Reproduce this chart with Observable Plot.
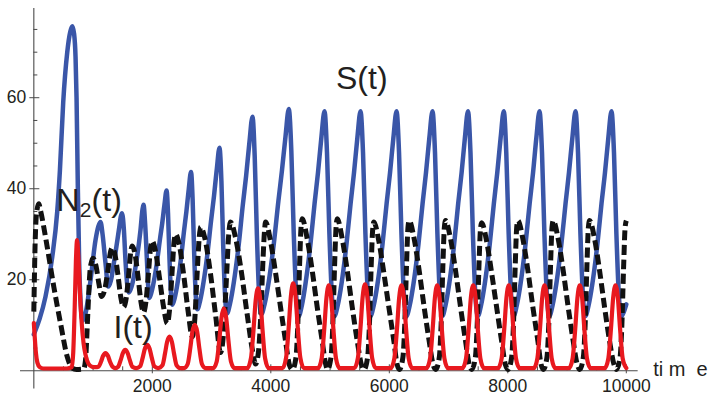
<!DOCTYPE html>
<html><head><meta charset="utf-8">
<script src="https://cdn.jsdelivr.net/npm/d3@7"></script>
<script src="https://cdn.jsdelivr.net/npm/@observablehq/plot@0.6"></script>
<style>html,body{margin:0;padding:0;background:#fff;} #chart svg{display:block;}</style>
</head><body><div id="chart"></div>
<script>
// S(t): susceptible (blue)
const S = [
[0,8],[100,11.5],[197,16.3],[311,25],[395,35],[440,44],[496,59],[564,70],[615,74.5],[650,75.7],[680,74],[704,69],[721,60],[743,40],[765,24],[790,15],[822,11],
[873,12.6],[957,19.9],[1041,28.7],[1090,31.8],[1126,32.7],[1160,30],[1210,23.6],[1255,18.5],
[1300,19.8],[1350,23.6],[1435,30.9],[1470,34],[1489,34.6],[1520,31],[1548,24],[1580,18.5],[1603,17.2],
[1650,18.5],[1716,22.8],[1800,30.9],[1835,35.5],[1851,36.5],[1880,32],[1910,24],[1935,17.5],[1950,16],
[1985,17.2],[2028,19.8],[2083,24.3],[2130,29],[2168,32.5],[2205,36.5],[2240,39.6],[2265,34.6],[2290,24.5],[2315,17],[2340,14.5],
[2378,16],[2425,19.2],[2484,24.7],[2534,30.6],[2575,35],[2615,39.9],[2653,43.7],[2680,37.7],[2707,25.6],[2733,16.5],[2760,13.5],
[2805,15.3],[2861,19.2],[2932,25.9],[2992,33],[3041,38.4],[3089,44.4],[3134,49],[3166,41.7],[3197,27.2],[3229,16.2],[3260,12.6],
[3312,14.8],[3376,19.5],[3458,27.7],[3527,36.4],[3583,42.8],[3639,50.2],[3691,55.8],[3728,47.1],[3765,29.8],[3803,16.7],[3840,12.4],
[3896,14.7],[3965,19.6],[4053,28.2],[4128,37.3],[4188,44],[4248,51.5],[4304,57.5],[4346,48.4],[4387,30.2],[4429,16.5],[4470,12],
[4523,14.3],[4586,19.2],[4669,27.8],[4739,36.8],[4796,43.5],[4853,51.2],[4906,57],[4948,48],[4989,30],[5031,16.5],[5072,12],
[5128,14.3],[5194,19.2],[5277,27.8],[5347,36.8],[5404,43.5],[5461,51.2],[5514,57],[5556,48],[5597,30],[5639,16.5],[5680,12],
[5736,14.3],[5802,19.2],[5885,27.8],[5955,36.8],[6012,43.5],[6069,51.2],[6122,57],[6164,48],[6205,30],[6247,16.5],[6288,12],
[6343,14.3],[6409,19.2],[6492,27.8],[6562,36.8],[6619,43.5],[6676,51.2],[6729,57],[6771,48],[6812,30],[6854,16.5],[6895,12],
[6947,14.3],[7012,19.2],[7094,27.8],[7163,36.8],[7220,43.5],[7276,51.2],[7328,57],[7370,48],[7411,30],[7453,16.5],[7494,12],
[7547,14.3],[7612,19.2],[7695,27.8],[7765,36.8],[7822,43.5],[7879,51.2],[7932,57],[7974,48],[8015,30],[8057,16.5],[8098,12],
[8150,14.3],[8216,19.2],[8299,27.8],[8369,36.8],[8426,43.5],[8482,51.2],[8535,57],[8577,48],[8618,30],[8660,16.5],[8701,12],
[8754,14.3],[8820,19.2],[8904,27.8],[8975,36.8],[9032,43.5],[9090,51.2],[9143,57],[9185,48],[9226,30],[9268,16.5],[9309,12],
[9362,14.3],[9428,19.2],[9512,27.8],[9582,36.8],[9640,43.5],[9697,51.2],[9750,57],[9792,48],[9833,30],[9875,16.5],[9916,12],[9960,13],[10000,14.6]
];

// N2(t): dashed black
const N2 = [
[0,13],[20,27],[45,34.5],[84,36.7],[113,35.2],[226,27.2],[338,18.4],[451,10.4],[564,3.1],[648,0.6],[720,0.3],[840,0.4],[873,2.4],[911,12.6],[945,21.4],[975,24],[1002,24.7],
[1050,23],[1100,19],[1143,16.3],[1190,17.5],[1250,22],[1290,25.8],[1323,27],
[1370,25.5],[1420,21],[1470,16],[1514,14],[1560,16],[1600,21],[1635,26],[1661,27.4],
[1710,25.5],[1760,20.5],[1810,15],[1851,12.8],[1895,15.5],[1935,21.5],[1970,27],[1998,28.5],
[2050,26.5],[2120,20.5],[2190,14],[2252,10.4],[2295,14],[2335,22],[2365,28],[2392,30],
[2450,28],[2530,21],[2610,12.5],[2673,7.5],[2715,11],[2755,21],[2790,29],[2814,31.6],
[2880,29.5],[2980,21.5],[3070,12],[3151,4],[3200,8],[3250,20],[3290,30],[3320,32.7],
[3400,29.5],[3500,22],[3600,12.5],[3690,4.5],[3742,1.5],[3790,4],[3830,12],[3870,25],[3895,31],[3911,32.7],
[3995,28.5],[4080,21.5],[4164,14],[4249,6.5],[4316,1.2],[4365,0.3],[4425,3],[4455,10],[4485,23],[4510,31.5],[4530,33.4],
[4614,29],[4699,22],[4783,14],[4868,6.5],[4925,1.5],[4956,0.3],[5016,3],[5046,10],[5076,23],[5101,31.5],[5121,33.4],
[5205,29],[5290,22],[5374,14],[5459,6.5],[5530,1.3],[5574,0.3],[5634,3],[5664,10],[5694,23],[5719,31],[5739,32.7],
[5823,28.5],[5908,21.5],[5992,14],[6077,6.5],[6130,1.5],[6170,0.3],[6230,3],[6260,10],[6290,23],[6315,31.5],[6335,33],
[6419,29],[6504,22],[6588,14],[6673,6.5],[6740,1.3],[6784,0.3],[6844,3],[6874,10],[6904,23],[6929,31.5],[6949,33],
[7033,29],[7118,22],[7202,14],[7287,6.5],[7350,1.3],[7393,0.3],[7453,3],[7483,10],[7513,23],[7538,31],[7558,32.5],
[7642,28.5],[7727,21.5],[7811,14],[7896,6.5],[7960,1.3],[8005,0.3],[8065,3],[8095,10],[8125,23],[8150,31.5],[8170,33],
[8254,29],[8339,22],[8423,14],[8508,6.5],[8560,1.5],[8601,0.3],[8661,3],[8691,10],[8721,23],[8746,31.5],[8766,33],
[8850,29],[8935,22],[9019,14],[9104,6.5],[9170,1.5],[9215,0.3],[9275,3],[9305,10],[9335,23],[9360,31.5],[9380,33],
[9464,29],[9549,22],[9633,14],[9718,6.5],[9790,1.5],[9835,0.3],[9895,3],[9925,10],[9955,23],[9980,31.5],[10000,33]
];

// I(t): infected (red)
const I = [
[0,10.5],[15,7.5],[35,4],[60,1.8],[100,0.8],[160,0.5],[560,0.5],[640,0.8],[665,4],[690,14],[710,24],[730,28.7],[750,25.5],[775,18],[805,11],[840,6],[873,3.5],[920,1.6],[980,0.9],
[1040,0.8],[1090,0.9],[1134,2],[1170,3.3],[1210,3.9],[1250,3.3],[1286,2],[1330,0.9],[1377,0.6],
[1423,0.9],[1467,2.4],[1503,3.9],[1543,4.6],[1583,3.9],[1619,2.4],[1663,0.9],[1728,0.6],
[1794,1],[1838,2.9],[1874,4.85],[1914,5.7],[1954,4.85],[1990,2.9],[2034,1],[2100,0.6],
[2170,1.2],[2214,3.8],[2250,6.4],[2290,7.5],[2330,6.4],[2366,3.8],[2410,1.2],[2470,0.6],
[2537,0.6],[2597,1.5],[2641,5],[2677,8.6],[2717,10.1],[2757,8.6],[2793,5],[2837,1.5],[2897,0.6],
[3027,0.6],[3087,2.05],[3131,6.85],[3167,11.6],[3207,13.7],[3247,11.6],[3283,6.85],[3327,2.05],[3387,0.6],
[3604,0.6],[3664,2.7],[3708,9],[3744,15.4],[3784,18.1],[3824,15.4],[3860,9],[3904,2.7],[3964,0.6],
[4198,0.6],[4258,2.9],[4302,9.6],[4338,16.3],[4378,19.2],[4418,16.3],[4454,9.6],[4498,2.9],[4558,0.6],
[4799,0.6],[4859,2.8],[4903,9.4],[4939,16],[4979,18.8],[5019,16],[5055,9.4],[5099,2.8],[5159,0.6],
[5410,0.6],[5470,2.85],[5514,9.5],[5550,16.2],[5590,19],[5630,16.2],[5666,9.5],[5710,2.85],[5770,0.6],
[6026,0.6],[6086,2.8],[6130,9.4],[6166,16],[6206,18.8],[6246,16],[6282,9.4],[6326,2.8],[6386,0.6],
[6629,0.6],[6689,2.8],[6733,9.4],[6769,16],[6809,18.8],[6849,16],[6885,9.4],[6929,2.8],[6989,0.6],
[7236,0.6],[7296,2.8],[7340,9.4],[7376,16],[7416,18.8],[7456,16],[7492,9.4],[7536,2.8],[7596,0.6],
[7837,0.6],[7897,2.8],[7941,9.4],[7977,16],[8017,18.8],[8057,16],[8093,9.4],[8137,2.8],[8197,0.6],
[8440,0.6],[8500,2.8],[8544,9.4],[8580,16],[8620,18.8],[8660,16],[8696,9.4],[8740,2.8],[8800,0.6],
[9035,0.6],[9095,2.8],[9139,9.4],[9175,16],[9215,18.8],[9255,16],[9291,9.4],[9335,2.8],[9395,0.6],
[9638,0.6],[9698,2.8],[9742,9.4],[9778,16],[9818,18.8],[9858,16],[9894,9.4],[9938,2.8],[10000,0.6]
];

const xTickLabels = [2000, 4000, 6000, 8000, 10000];
const xMinorTicks = [500,1000,1500,2500,3000,3500,4500,5000,5500,6500,7000,7500,8500,9000,9500];
const yTickLabels = [20, 40, 60];
const yMinorTicks = [5,10,15,25,30,35,45,50,55,65,70,75];

const W = 710, H = 397, mL = 20, mR = 72.35, mT = 8, mB = 8.5;
const xDomain = [-225, 10200], yDomain = [-4, 79.6];
const pxX = (W - mL - mR) / (xDomain[1] - xDomain[0]);
const pxY = (H - mT - mB) / (yDomain[1] - yDomain[0]);
const axisColor = "#4a4a4a";
const textColor = "#231f20";
const font = "'Liberation Sans', Arial, Helvetica, sans-serif";
const X = d => d[0], Y = d => d[1];

const chart = Plot.plot({
  width: W, height: H,
  marginLeft: mL, marginRight: mR, marginTop: mT, marginBottom: mB,
  x: {domain: xDomain, axis: null},
  y: {domain: yDomain, axis: null},
  style: {fontFamily: font, background: "#fff", overflow: "visible"},
  marks: [
    Plot.ruleY([0], {x1: xDomain[0], x2: xDomain[1], stroke: axisColor, strokeWidth: 1.1}),
    Plot.ruleX([0], {y1: yDomain[0], y2: yDomain[1], stroke: axisColor, strokeWidth: 1.1}),
    Plot.ruleX(xMinorTicks, {x: d => d, y1: 0, y2: 4 / pxY, stroke: axisColor, strokeWidth: 1}),
    Plot.ruleX(xTickLabels, {x: d => d, y1: -3 / pxY, y2: 6 / pxY, stroke: axisColor, strokeWidth: 1}),
    Plot.ruleY(yMinorTicks, {y: d => d, x1: 0, x2: 4 / pxX, stroke: axisColor, strokeWidth: 1}),
    Plot.ruleY(yTickLabels, {y: d => d, x1: -4 / pxX, x2: 6 / pxX, stroke: axisColor, strokeWidth: 1}),
    Plot.text(yTickLabels, {x: 0, y: d => d, text: d => String(d), textAnchor: "end", dx: -7.5, fontSize: 17.5, fill: textColor}),
    Plot.text(xTickLabels, {x: d => d, y: 0, text: d => String(d), dy: 15.5, fontSize: 17.5, fill: textColor}),
    Plot.line(S, {x: X, y: Y, stroke: "#3a56a8", strokeWidth: 4.5, curve: "monotone-x"}),
    Plot.line(N2, {x: X, y: Y, stroke: "#111111", strokeWidth: 5, strokeDasharray: "10,4.5", strokeLinecap: "butt", curve: "monotone-x"}),
    Plot.line(I, {x: X, y: Y, stroke: "#e8191f", strokeWidth: 4.2, curve: "monotone-x"}),
    Plot.text(["S(t)"], {x: 5100, y: 61.9, textAnchor: "start", lineAnchor: "bottom", fontSize: 32, fill: textColor}),
    Plot.text(["N"], {x: 383, y: 35.2, textAnchor: "start", lineAnchor: "bottom", fontSize: 32, fill: textColor}),
    Plot.text(["2"], {x: 775, y: 33.7, textAnchor: "start", lineAnchor: "bottom", fontSize: 21, fill: textColor}),
    Plot.text(["(t)"], {x: 975, y: 35.2, textAnchor: "start", lineAnchor: "bottom", fontSize: 32, fill: textColor}),
    Plot.text(["I(t)"], {x: 1345, y: 7.2, textAnchor: "start", lineAnchor: "bottom", fontSize: 32, fill: textColor}),
    Plot.text(["ti m\u00a0\u00a0e"], {x: 10454, y: -1.2, textAnchor: "start", lineAnchor: "bottom", fontSize: 20, fill: textColor})
  ]
});
document.getElementById("chart").appendChild(chart);
</script>
</body></html>
